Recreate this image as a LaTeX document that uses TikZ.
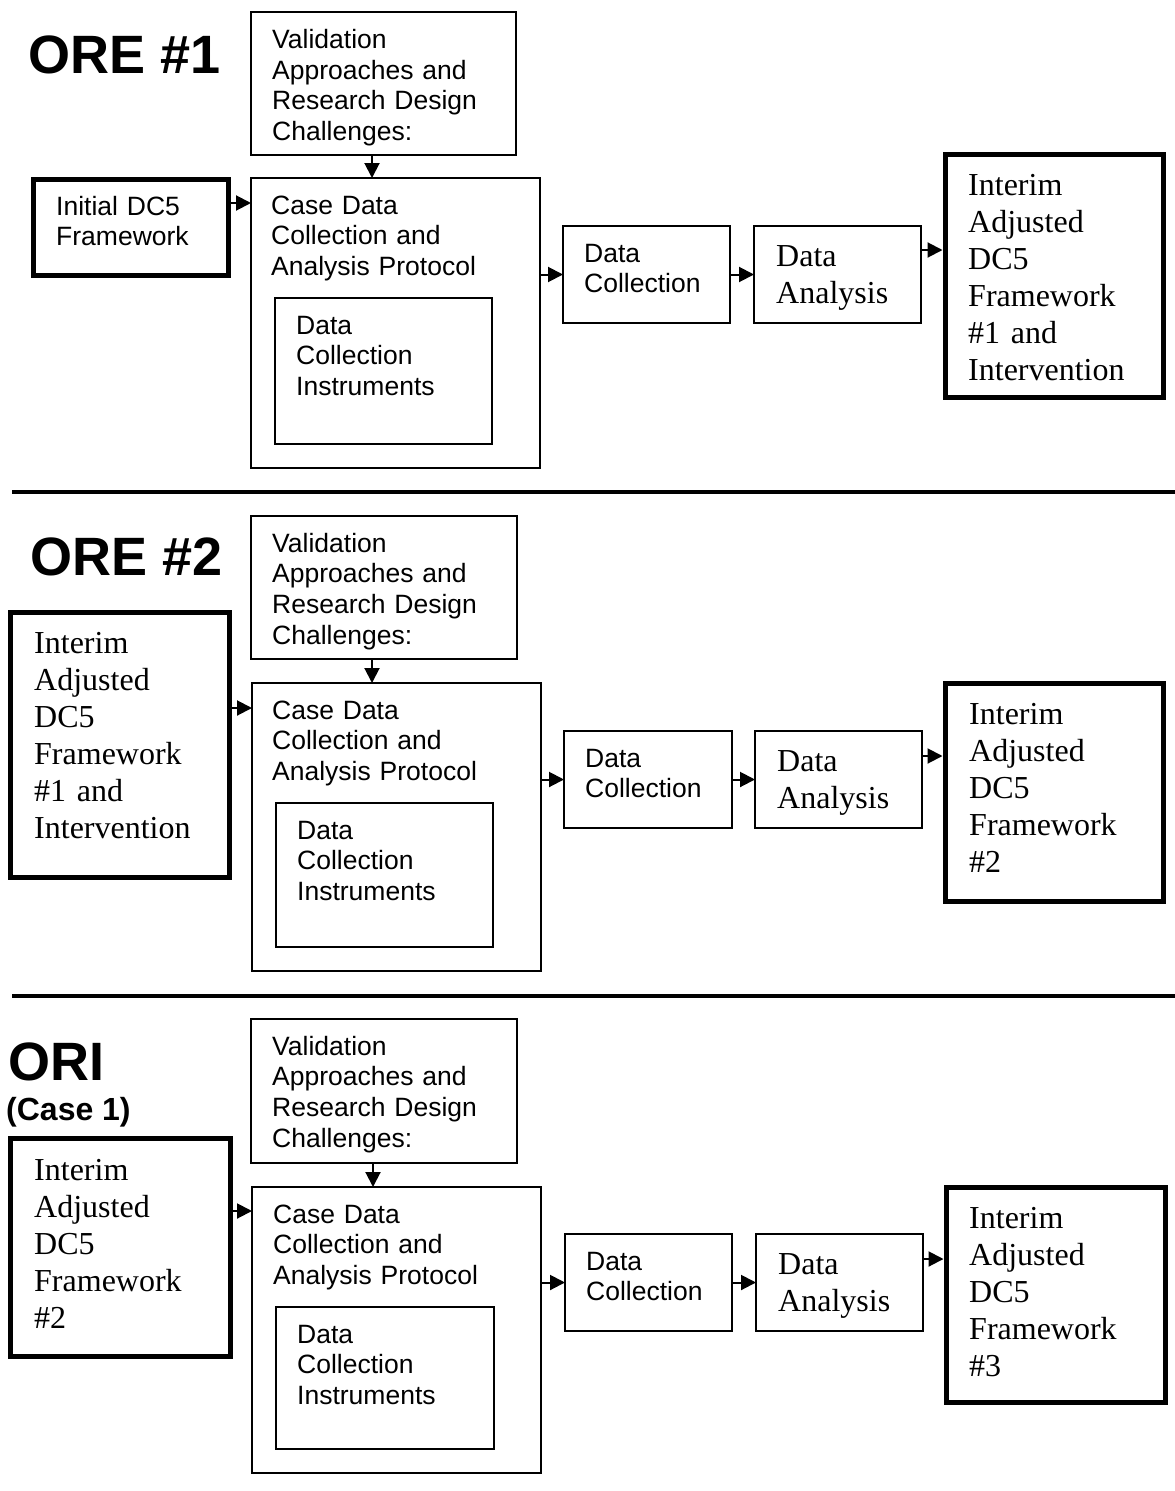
\documentclass[tikz,border=0pt]{standalone}
\usepackage{fontspec}
\setmainfont{Liberation Serif}
\setsansfont{Liberation Sans}
\usetikzlibrary{arrows.meta,fit}

\begin{document}
\begin{tikzpicture}[x=1pt,y=-1pt,
  thinbox/.style={draw, line width=2.2pt, inner sep=0pt, outer sep=0pt},
  thickbox/.style={draw, line width=5pt, inner sep=0pt},
  sans/.style={anchor=base west, inner sep=0pt, text width=280pt, align=left,
    font=\sffamily\fontsize{26.5}{30.7}\selectfont},
  serif/.style={anchor=base west, inner sep=0pt, text width=280pt, align=left,
    font=\rmfamily\fontsize{32}{37}\selectfont},
  heading/.style={anchor=base west, inner sep=0pt,
    font=\sffamily\bfseries\fontsize{54}{60}\selectfont},
  subheading/.style={anchor=base west, inner sep=0pt,
    font=\sffamily\bfseries\fontsize{32}{36}\selectfont},
  arr/.style={line width=2pt, -{Triangle[length=15pt,width=15pt]}},
  rule/.style={line width=4pt}]

\useasboundingbox (0,0) rectangle (1175,1491);

% ---------------- ORE #1 ----------------
\node[heading] (h1) at (28,73) {ORE \#1};
\node[thinbox, fit={(251,12) (516,155)}] (val1) {};
\node[sans] (valt1) at (272,48.5) {Validation\\Approaches and\\Research Design\\Challenges:};
\node[thickbox, fit={(33,179) (228,275)}] (init1) {};
\node[sans] (initt1) at (56,215) {Initial DC5\\Framework};
\node[thinbox, fit={(251,178) (540,468)}] (case1) {};
\node[sans] (caset1) at (271,214) {Case Data\\Collection and\\Analysis Protocol};
\node[thinbox, fit={(275,298) (492,444)}] (inst1) {};
\node[sans] (instt1) at (296,334) {Data\\Collection\\Instruments};
\node[thinbox, fit={(563,226) (730,323)}] (coll1) {};
\node[sans] (collt1) at (584,262) {Data\\Collection};
\node[thinbox, fit={(754,226) (921,323)}] (anal1) {};
\node[serif] (analt1) at (776,266) {Data\\Analysis};
\node[thickbox, fit={(945,154) (1163,397)}] (res1) {};
\node[serif] (rest1) at (968,195) {Interim\\Adjusted\\DC5\\Framework\\\#1 and\\Intervention};

\draw[arr] (val1.south -| 372,0) -- (case1.north -| 372,0);
\draw[arr] (init1.east |- 0,203) -- (case1.west |- 0,203);
\draw[arr] (case1.east |- coll1.west) -- (coll1.west);
\draw[arr] (coll1) -- (anal1);
\draw[arr] (anal1.east |- 0,250) -- (res1.west |- 0,250);

\draw[rule] (12,492) -- (1175,492);

% ---------------- ORE #2 ----------------
\node[heading] (h2) at (30,575) {ORE \#2};
\node[thinbox, fit={(251,516) (517,659)}] (val2) {};
\node[sans] (valt2) at (272,552) {Validation\\Approaches and\\Research Design\\Challenges:};
\node[thickbox, fit={(10,612) (229,877)}] (init2) {};
\node[serif] (initt2) at (34,653) {Interim\\Adjusted\\DC5\\Framework\\\#1 and\\Intervention};
\node[thinbox, fit={(252,683) (541,971)}] (case2) {};
\node[sans] (caset2) at (272,719) {Case Data\\Collection and\\Analysis Protocol};
\node[thinbox, fit={(276,803) (493,947)}] (inst2) {};
\node[sans] (instt2) at (297,839) {Data\\Collection\\Instruments};
\node[thinbox, fit={(564,731) (732,828)}] (coll2) {};
\node[sans] (collt2) at (585,767) {Data\\Collection};
\node[thinbox, fit={(755,731) (922,828)}] (anal2) {};
\node[serif] (analt2) at (777,771) {Data\\Analysis};
\node[thickbox, fit={(945,683) (1163,901)}] (res2) {};
\node[serif] (rest2) at (969,724) {Interim\\Adjusted\\DC5\\Framework\\\#2};

\draw[arr] (val2.south -| 372,0) -- (case2.north -| 372,0);
\draw[arr] (init2.east |- 0,708) -- (case2.west |- 0,708);
\draw[arr] (case2.east |- coll2.west) -- (coll2.west);
\draw[arr] (coll2) -- (anal2);
\draw[arr] (anal2.east |- 0,756) -- (res2.west |- 0,756);

\draw[rule] (12,996) -- (1175,996);

% ---------------- ORI (Case 1) ----------------
\node[heading] (h3) at (8,1080) {ORI};
\node[subheading] (h3b) at (6,1120) {(Case 1)};
\node[thinbox, fit={(251,1019) (517,1163)}] (val3) {};
\node[sans] (valt3) at (272,1055) {Validation\\Approaches and\\Research Design\\Challenges:};
\node[thickbox, fit={(10,1138) (230,1356)}] (init3) {};
\node[serif] (initt3) at (34,1180) {Interim\\Adjusted\\DC5\\Framework\\\#2};
\node[thinbox, fit={(252,1187) (541,1473)}] (case3) {};
\node[sans] (caset3) at (273,1223) {Case Data\\Collection and\\Analysis Protocol};
\node[thinbox, fit={(276,1307) (494,1449)}] (inst3) {};
\node[sans] (instt3) at (297,1343) {Data\\Collection\\Instruments};
\node[thinbox, fit={(565,1234) (732,1331)}] (coll3) {};
\node[sans] (collt3) at (586,1270) {Data\\Collection};
\node[thinbox, fit={(756,1234) (923,1331)}] (anal3) {};
\node[serif] (analt3) at (778,1274) {Data\\Analysis};
\node[thickbox, fit={(946,1187) (1165,1402)}] (res3) {};
\node[serif] (rest3) at (969,1228) {Interim\\Adjusted\\DC5\\Framework\\\#3};

\draw[arr] (val3.south -| 373,0) -- (case3.north -| 373,0);
\draw[arr] (init3.east |- 0,1211) -- (case3.west |- 0,1211);
\draw[arr] (case3.east |- coll3.west) -- (coll3.west);
\draw[arr] (coll3) -- (anal3);
\draw[arr] (anal3.east |- 0,1259) -- (res3.west |- 0,1259);

\end{tikzpicture}
\end{document}
